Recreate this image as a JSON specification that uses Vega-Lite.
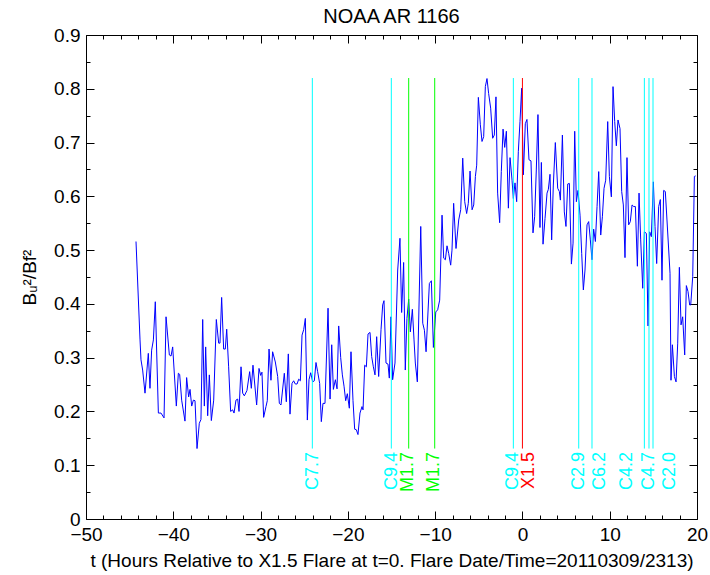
{
"$schema": "https://vega.github.io/schema/vega-lite/v6.json",
"width": 611, "height": 484,
"autosize": {"type": "none"},
"padding": {"left": 86, "top": 35, "right": 13, "bottom": 56},
"title": {"text": "NOAA AR 1166", "fontSize": 20, "font": "Liberation Sans", "fontWeight": "normal", "color": "black", "offset": -1},
"config": {
  "view": {"stroke": null},
  "font": "Liberation Sans",
  "axis": {"grid": false, "domainColor": "black", "domainWidth": 1, "tickColor": "black", "labelColor": "black", "titleColor": "black", "labelFontSize": 19, "titleFontSize": 19, "titleFontWeight": "normal", "labelFont": "Liberation Sans", "titleFont": "Liberation Sans", "labelOverlap": false, "labelFlush": false}
},
"datasets": {
"series": [
{"t":-44.27,"v":0.516},{"t":-43.81,"v":0.333},{"t":-43.70,"v":0.296},{"t":-43.51,"v":0.277},{"t":-43.24,"v":0.234},{"t":-42.86,"v":0.308},{"t":-42.67,"v":0.243},{"t":-42.48,"v":0.314},{"t":-42.28,"v":0.333},{"t":-42.06,"v":0.404},{"t":-41.71,"v":0.197},{"t":-41.41,"v":0.197},{"t":-41.06,"v":0.188},{"t":-40.83,"v":0.376},{"t":-40.45,"v":0.305},{"t":-40.26,"v":0.303},{"t":-40.07,"v":0.320},{"t":-39.65,"v":0.210},{"t":-39.42,"v":0.271},{"t":-39.27,"v":0.269},{"t":-39.04,"v":0.221},{"t":-38.66,"v":0.182},{"t":-38.47,"v":0.263},{"t":-38.24,"v":0.227},{"t":-38.08,"v":0.241},{"t":-37.89,"v":0.210},{"t":-37.70,"v":0.221},{"t":-37.51,"v":0.220},{"t":-37.28,"v":0.131},{"t":-37.02,"v":0.178},{"t":-36.83,"v":0.185},{"t":-36.63,"v":0.371},{"t":-36.44,"v":0.210},{"t":-36.29,"v":0.320},{"t":-36.06,"v":0.192},{"t":-35.87,"v":0.268},{"t":-35.64,"v":0.183},{"t":-35.37,"v":0.221},{"t":-35.07,"v":0.371},{"t":-34.80,"v":0.327},{"t":-34.65,"v":0.327},{"t":-34.46,"v":0.412},{"t":-34.23,"v":0.316},{"t":-34.04,"v":0.316},{"t":-33.88,"v":0.353},{"t":-33.66,"v":0.283},{"t":-33.43,"v":0.200},{"t":-33.20,"v":0.203},{"t":-33.04,"v":0.197},{"t":-32.82,"v":0.221},{"t":-32.62,"v":0.223},{"t":-32.47,"v":0.200},{"t":-32.24,"v":0.283},{"t":-32.05,"v":0.234},{"t":-31.86,"v":0.229},{"t":-31.56,"v":0.239},{"t":-31.25,"v":0.274},{"t":-31.06,"v":0.243},{"t":-30.87,"v":0.286},{"t":-30.45,"v":0.212},{"t":-30.18,"v":0.280},{"t":-29.99,"v":0.267},{"t":-29.84,"v":0.273},{"t":-29.65,"v":0.189},{"t":-29.38,"v":0.209},{"t":-29.23,"v":0.220},{"t":-29.03,"v":0.316},{"t":-28.81,"v":0.258},{"t":-28.62,"v":0.311},{"t":-28.31,"v":0.292},{"t":-28.04,"v":0.265},{"t":-27.85,"v":0.215},{"t":-27.66,"v":0.212},{"t":-27.28,"v":0.271},{"t":-27.05,"v":0.218},{"t":-26.82,"v":0.307},{"t":-26.63,"v":0.195},{"t":-26.40,"v":0.252},{"t":-26.21,"v":0.257},{"t":-26.02,"v":0.251},{"t":-25.82,"v":0.251},{"t":-25.63,"v":0.260},{"t":-25.44,"v":0.257},{"t":-25.25,"v":0.342},{"t":-25.06,"v":0.352},{"t":-24.87,"v":0.373},{"t":-24.64,"v":0.184},{"t":-24.45,"v":0.259},{"t":-24.26,"v":0.272},{"t":-24.03,"v":0.255},{"t":-23.84,"v":0.257},{"t":-23.65,"v":0.291},{"t":-23.46,"v":0.274},{"t":-23.23,"v":0.252},{"t":-23.04,"v":0.181},{"t":-22.85,"v":0.215},{"t":-22.62,"v":0.215},{"t":-22.27,"v":0.392},{"t":-22.04,"v":0.223},{"t":-21.85,"v":0.324},{"t":-21.66,"v":0.241},{"t":-21.43,"v":0.259},{"t":-21.24,"v":0.242},{"t":-21.05,"v":0.359},{"t":-20.82,"v":0.300},{"t":-20.63,"v":0.268},{"t":-20.44,"v":0.247},{"t":-20.25,"v":0.220},{"t":-20.06,"v":0.233},{"t":-19.83,"v":0.206},{"t":-19.64,"v":0.311},{"t":-19.41,"v":0.220},{"t":-19.22,"v":0.167},{"t":-19.03,"v":0.166},{"t":-18.84,"v":0.157},{"t":-18.61,"v":0.197},{"t":-18.38,"v":0.209},{"t":-18.26,"v":0.203},{"t":-18.07,"v":0.286},{"t":-17.88,"v":0.283},{"t":-17.69,"v":0.344},{"t":-17.46,"v":0.347},{"t":-17.27,"v":0.302},{"t":-17.08,"v":0.283},{"t":-16.89,"v":0.268},{"t":-16.70,"v":0.339},{"t":-16.47,"v":0.265},{"t":-16.20,"v":0.352},{"t":-16.01,"v":0.398},{"t":-15.86,"v":0.406},{"t":-15.63,"v":0.290},{"t":-15.40,"v":0.288},{"t":-15.25,"v":0.262},{"t":-15.06,"v":0.376},{"t":-14.87,"v":0.259},{"t":-14.60,"v":0.290},{"t":-14.29,"v":0.463},{"t":-14.03,"v":0.522},{"t":-13.84,"v":0.384},{"t":-13.61,"v":0.477},{"t":-13.42,"v":0.277},{"t":-13.23,"v":0.373},{"t":-13.03,"v":0.409},{"t":-12.84,"v":0.348},{"t":-12.61,"v":0.390},{"t":-12.42,"v":0.333},{"t":-12.27,"v":0.290},{"t":-12.04,"v":0.255},{"t":-11.65,"v":0.544},{"t":-11.42,"v":0.364},{"t":-11.23,"v":0.351},{"t":-11.04,"v":0.311},{"t":-10.66,"v":0.438},{"t":-10.43,"v":0.443},{"t":-10.20,"v":0.319},{"t":-9.93,"v":0.385},{"t":-9.71,"v":0.389},{"t":-9.48,"v":0.407},{"t":-9.21,"v":0.565},{"t":-9.02,"v":0.485},{"t":-8.83,"v":0.482},{"t":-8.64,"v":0.508},{"t":-8.45,"v":0.494},{"t":-8.22,"v":0.472},{"t":-8.07,"v":0.500},{"t":-7.88,"v":0.587},{"t":-7.61,"v":0.503},{"t":-7.30,"v":0.556},{"t":-7.07,"v":0.575},{"t":-6.84,"v":0.671},{"t":-6.61,"v":0.590},{"t":-6.39,"v":0.568},{"t":-6.20,"v":0.587},{"t":-6.00,"v":0.647},{"t":-5.77,"v":0.575},{"t":-5.58,"v":0.584},{"t":-5.39,"v":0.637},{"t":-5.24,"v":0.658},{"t":-5.05,"v":0.784},{"t":-4.82,"v":0.733},{"t":-4.63,"v":0.702},{"t":-4.44,"v":0.711},{"t":-4.25,"v":0.804},{"t":-4.06,"v":0.819},{"t":-3.87,"v":0.791},{"t":-3.64,"v":0.764},{"t":-3.41,"v":0.708},{"t":-3.22,"v":0.714},{"t":-3.03,"v":0.785},{"t":-2.84,"v":0.606},{"t":-2.61,"v":0.551},{"t":-2.42,"v":0.646},{"t":-2.22,"v":0.725},{"t":-2.03,"v":0.691},{"t":-1.84,"v":0.721},{"t":-1.61,"v":0.578},{"t":-1.42,"v":0.672},{"t":-1.19,"v":0.630},{"t":-1.04,"v":0.596},{"t":-0.85,"v":0.625},{"t":-0.66,"v":0.590},{"t":-0.47,"v":0.683},{"t":-0.28,"v":0.739},{"t":-0.09,"v":0.801},{"t":0.11,"v":0.640},{"t":0.33,"v":0.735},{"t":0.52,"v":0.743},{"t":0.75,"v":0.668},{"t":0.98,"v":0.666},{"t":1.21,"v":0.532},{"t":1.40,"v":0.562},{"t":1.59,"v":0.649},{"t":1.78,"v":0.752},{"t":2.01,"v":0.542},{"t":2.17,"v":0.663},{"t":2.36,"v":0.511},{"t":2.59,"v":0.559},{"t":2.82,"v":0.606},{"t":2.97,"v":0.613},{"t":3.16,"v":0.641},{"t":3.35,"v":0.519},{"t":3.54,"v":0.621},{"t":3.77,"v":0.700},{"t":4.04,"v":0.615},{"t":4.23,"v":0.609},{"t":4.35,"v":0.593},{"t":4.58,"v":0.714},{"t":4.80,"v":0.571},{"t":4.99,"v":0.544},{"t":5.19,"v":0.623},{"t":5.38,"v":0.624},{"t":5.61,"v":0.474},{"t":5.80,"v":0.513},{"t":5.99,"v":0.721},{"t":6.18,"v":0.590},{"t":6.37,"v":0.611},{"t":6.60,"v":0.565},{"t":6.79,"v":0.494},{"t":6.98,"v":0.426},{"t":7.17,"v":0.463},{"t":7.40,"v":0.547},{"t":7.59,"v":0.553},{"t":7.78,"v":0.519},{"t":7.97,"v":0.482},{"t":8.16,"v":0.539},{"t":8.36,"v":0.516},{"t":8.55,"v":0.581},{"t":8.74,"v":0.646},{"t":8.97,"v":0.528},{"t":9.16,"v":0.562},{"t":9.35,"v":0.615},{"t":9.54,"v":0.630},{"t":9.77,"v":0.739},{"t":9.96,"v":0.637},{"t":10.19,"v":0.599},{"t":10.38,"v":0.804},{"t":10.57,"v":0.739},{"t":10.76,"v":0.694},{"t":10.95,"v":0.742},{"t":11.18,"v":0.726},{"t":11.37,"v":0.609},{"t":11.56,"v":0.584},{"t":11.75,"v":0.486},{"t":11.98,"v":0.672},{"t":12.17,"v":0.547},{"t":12.36,"v":0.553},{"t":12.56,"v":0.584},{"t":12.75,"v":0.581},{"t":12.94,"v":0.581},{"t":13.17,"v":0.470},{"t":13.36,"v":0.606},{"t":13.55,"v":0.519},{"t":13.78,"v":0.429},{"t":13.97,"v":0.534},{"t":14.20,"v":0.531},{"t":14.39,"v":0.359},{"t":14.58,"v":0.534},{"t":14.77,"v":0.525},{"t":15.00,"v":0.627},{"t":15.19,"v":0.544},{"t":15.38,"v":0.475},{"t":15.61,"v":0.581},{"t":15.80,"v":0.594},{"t":15.99,"v":0.444},{"t":16.18,"v":0.611},{"t":16.37,"v":0.609},{"t":16.56,"v":0.556},{"t":16.91,"v":0.457},{"t":17.02,"v":0.258},{"t":17.18,"v":0.324},{"t":17.41,"v":0.265},{"t":17.60,"v":0.255},{"t":17.79,"v":0.327},{"t":17.98,"v":0.468},{"t":18.17,"v":0.361},{"t":18.36,"v":0.376},{"t":18.59,"v":0.305},{"t":18.78,"v":0.434},{"t":18.97,"v":0.423},{"t":19.16,"v":0.398},{"t":19.28,"v":0.398},{"t":19.51,"v":0.451},{"t":19.70,"v":0.637},{"t":19.85,"v":0.638}
],
"flares": [
{"name":"C7.7","cls":"C","t":-24.07,"label_t":-24.0},
{"name":"C9.4","cls":"C","t":-15.02,"label_t":-14.98},
{"name":"M1.7","cls":"M","t":-13.03,"label_t":-13.07},
{"name":"M1.7","cls":"M","t":-10.05,"label_t":-10.13},
{"name":"C9.4","cls":"C","t":-1.04,"label_t":-1.04},
{"name":"X1.5","cls":"X","t":0.0,"label_t":0.79},
{"name":"C2.9","cls":"C","t":6.45,"label_t":6.52},
{"name":"C6.2","cls":"C","t":7.97,"label_t":8.89},
{"name":"C4.2","cls":"C","t":13.97,"label_t":11.95},
{"name":"C4.7","cls":"C","t":14.5,"label_t":14.54},
{"name":"C2.0","cls":"C","t":14.96,"label_t":16.91}
]
},
"layer": [
{
 "data": {"name": "series"},
 "mark": {"type": "line", "color": "#0000ff", "strokeWidth": 1, "clip": true},
 "encoding": {
  "x": {"field": "t", "type": "quantitative",
   "scale": {"domain": [-50, 20], "nice": false, "zero": false},
   "axis": {"orient": "bottom", "title": "t (Hours Relative to X1.5 Flare at t=0. Flare Date/Time=20110309/2313)",
     "values": [-50,-48,-46,-44,-42,-40,-38,-36,-34,-32,-30,-28,-26,-24,-22,-20,-18,-16,-14,-12,-10,-8,-6,-4,-2,0,2,4,6,8,10,12,14,16,18,20],
     "format": "d",
     "labelExpr": "datum.value % 10 === 0 ? datum.label : ''",
     "tickSize": {"condition": {"test": "datum.value % 10 === 0", "value": -8}, "value": -4},
     "labelPadding": 14, "titlePadding": 3}},
  "y": {"field": "v", "type": "quantitative",
   "scale": {"domain": [0, 0.9], "nice": false, "zero": false},
   "axis": {"orient": "left", "title": "Bᵤ²/Bf²",
     "values": [0,0.05,0.1,0.15,0.2,0.25,0.3,0.35,0.4,0.45,0.5,0.55,0.6,0.65,0.7,0.75,0.8,0.85,0.9],
     "labelExpr": "round(datum.value*100) % 10 === 0 ? format(datum.value, '.1~f') : ''",
     "tickSize": {"condition": {"test": "round(datum.value*100) % 10 === 0", "value": -8}, "value": -4},
     "labelPadding": 14, "titlePadding": 14}}
 }
},
{
 "data": {"name": "flares"},
 "mark": {"type": "rule", "strokeWidth": 1},
 "encoding": {
  "x": {"field": "t", "type": "quantitative",
   "axis": {"orient": "top", "title": null, "labels": false,
     "values": [-50,-48,-46,-44,-42,-40,-38,-36,-34,-32,-30,-28,-26,-24,-22,-20,-18,-16,-14,-12,-10,-8,-6,-4,-2,0,2,4,6,8,10,12,14,16,18,20],
     "tickSize": {"condition": {"test": "datum.value % 10 === 0", "value": -8}, "value": -4}}},
  "y": {"datum": 0.131, "type": "quantitative",
   "axis": {"orient": "right", "title": null, "labels": false,
     "values": [0,0.05,0.1,0.15,0.2,0.25,0.3,0.35,0.4,0.45,0.5,0.55,0.6,0.65,0.7,0.75,0.8,0.85,0.9],
     "tickSize": {"condition": {"test": "round(datum.value*100) % 10 === 0", "value": -8}, "value": -4}}},
  "y2": {"datum": 0.82},
  "color": {"field": "cls", "type": "nominal", "scale": {"domain": ["C","M","X"], "range": ["#00ffff","#00ff00","#ff0000"]}, "legend": null}
 }
},
{
 "data": {"name": "flares"},
 "mark": {"type": "text", "angle": 270, "align": "right", "baseline": "middle", "fontSize": 18, "font": "Liberation Sans"},
 "encoding": {
  "x": {"field": "label_t", "type": "quantitative", "axis": null},
  "y": {"datum": 0.1246, "type": "quantitative", "axis": null},
  "text": {"field": "name"},
  "color": {"field": "cls", "type": "nominal", "scale": {"domain": ["C","M","X"], "range": ["#00ffff","#00ff00","#ff0000"]}, "legend": null}
 }
}
],
"resolve": {"axis": {"x": "independent", "y": "independent"}}
}
